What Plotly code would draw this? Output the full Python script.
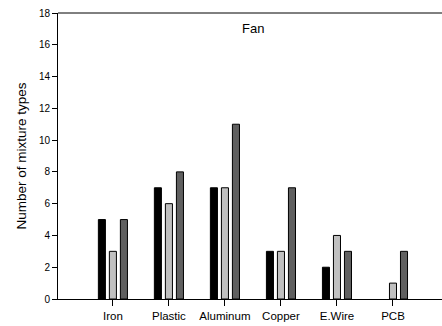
import plotly.graph_objects as go

categories = ["Iron", "Plastic", "Aluminum", "Copper", "E.Wire", "PCB"]
series_a = [5, 7, 7, 3, 2, 0]
series_b = [3, 6, 7, 3, 4, 1]
series_c = [5, 8, 11, 7, 3, 3]
y_ticks = [0, 2, 4, 6, 8, 10, 12, 14, 16, 18]

colors = ["#000000", "#c0c0c0", "#606060"]
font = "Liberation Sans, Arial, sans-serif"

fig = go.Figure()
for vals, col in zip([series_a, series_b, series_c], colors):
    fig.add_trace(go.Bar(
        x=list(range(len(categories))), y=vals,
        # no outline on empty bars
        marker=dict(color=col, line=dict(color="#000000",
                                          width=[1 if v else 0 for v in vals])),
        showlegend=False,
    ))

fig.update_layout(
    width=442, height=326,
    margin=dict(l=58, r=0, t=13, b=27),
    paper_bgcolor="white", plot_bgcolor="white",
    barmode="group", bargap=0.41, bargroupgap=0.36,
    font=dict(family=font, color="#000000"),
    xaxis=dict(
        range=[-0.98, 5.875],
        tickmode="array", tickvals=list(range(len(categories))), ticktext=categories,
        ticks="outside", ticklen=6, tickcolor="#000000",
        showline=True, linecolor="#000000", linewidth=1,
        showgrid=False, zeroline=False,
        tickfont=dict(size=11.5),
    ),
    yaxis=dict(
        range=[0, 18], tickvals=y_ticks,
        ticks="outside", ticklen=5, tickcolor="#000000",
        showline=True, linecolor="#000000", linewidth=1,
        showgrid=False, zeroline=False,
        tickfont=dict(size=10),
        title=dict(text="Number of mixture types", font=dict(size=13.5), standoff=9),
    ),
    shapes=[dict(type="line", xref="paper", yref="paper", x0=0, x1=1, y0=1, y1=1,
                 line=dict(color="#000000", width=1))],
    annotations=[dict(text="Fan", xref="paper", yref="paper", x=(253 - 58) / 384, y=1 - 15 / 286,
                      showarrow=False, font=dict(size=13), xanchor="center", yanchor="middle")],
)

fig.write_html("out.html")
